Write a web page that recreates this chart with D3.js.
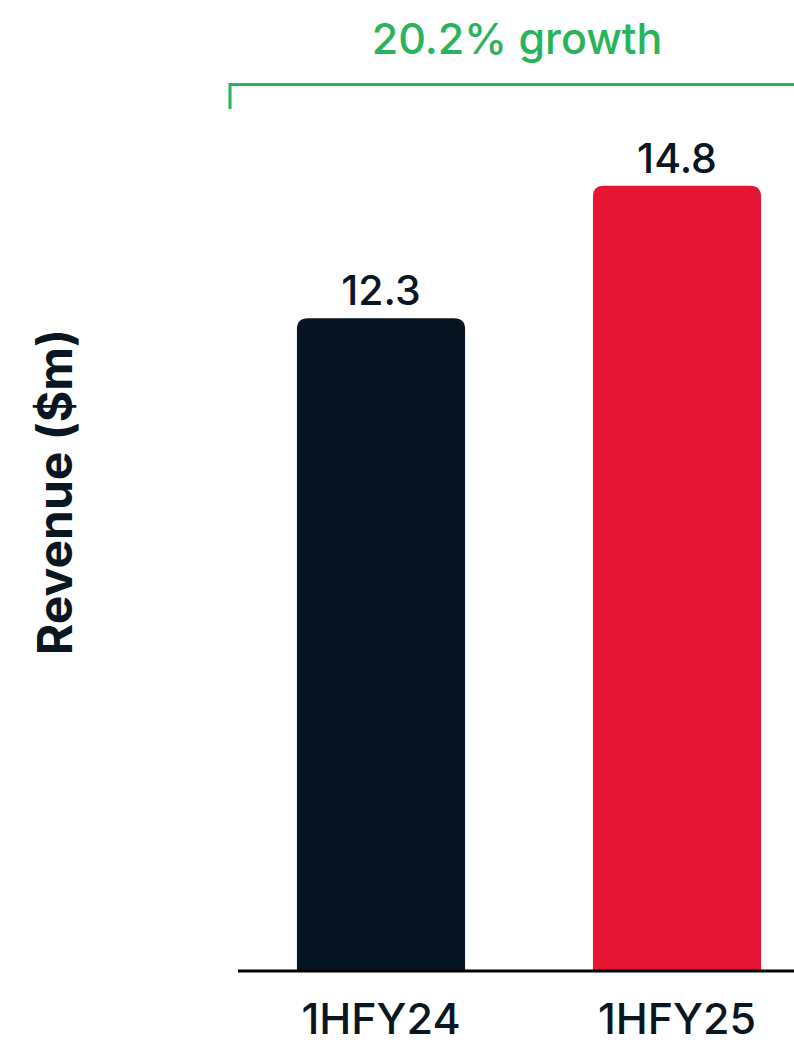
<!DOCTYPE html>
<html><head><meta charset="utf-8">
<script src="https://cdn.jsdelivr.net/npm/d3@7"></script>
<style>html,body{margin:0;padding:0;background:#fff;}svg{display:block;}</style>
</head><body>
<script>
const categories = ["1HFY24", "1HFY25"];
const values = [12.3, 14.8];
const valueLabels = ["12.3", "14.8"];
const barColors = ["#061521", "#e61533"];
const growthLabel = "20.2% growth";
const yTitle = "Revenue ($m)";

const W = 794, H = 1043;
const svg = d3.select("body").append("svg").attr("width", W).attr("height", H);
const font = "Inter, 'Noto Sans', sans-serif";
const dark = "#0a1622";

const x = d3.scaleBand().domain(categories).range([233, 825]).paddingInner(0.432).paddingOuter(0.216);
const y = d3.scaleLinear().domain([0, 18.3]).range([971, 0]);

const r = 11;
function barPath(x0, w, yTop, yBot) {
  return `M${x0},${yBot} L${x0},${yTop + r} Q${x0},${yTop} ${x0 + r},${yTop} L${x0 + w - r},${yTop} Q${x0 + w},${yTop} ${x0 + w},${yTop + r} L${x0 + w},${yBot} Z`;
}

svg.selectAll("path.bar").data(values).join("path")
  .attr("class", "bar")
  .attr("d", (d, i) => barPath(x(categories[i]), x.bandwidth(), y(d), y(0)))
  .attr("fill", (d, i) => barColors[i]);

// value labels
svg.selectAll("text.val").data(values).join("text")
  .attr("class", "val")
  .attr("x", (d, i) => x(categories[i]) + x.bandwidth() / 2)
  .attr("y", d => y(d) - 13)
  .attr("text-anchor", "middle")
  .attr("font-family", font).attr("font-weight", 500).attr("font-size", 41)
  .attr("fill", dark)
  .text((d, i) => valueLabels[i]);

// x axis
const xAxis = svg.append("g").attr("transform", `translate(0,${y(0)})`)
  .call(d3.axisBottom(x).tickSize(0).tickPadding(0));
xAxis.select(".domain").attr("d", `M238,0H794`).attr("stroke", "#000").attr("stroke-width", 3);
xAxis.selectAll("text").attr("font-family", font).attr("font-weight", 500).attr("font-size", 43).attr("fill", dark)
  .attr("y", 0).attr("dy", 0).attr("transform", "translate(0,63)");

// y title
svg.append("text")
  .attr("transform", "translate(72,492) rotate(-90)")
  .attr("text-anchor", "middle")
  .attr("font-family", font).attr("font-weight", 700).attr("font-size", 48)
  .attr("fill", dark)
  .text(yTitle);

// growth bracket
const green = "#2ab45a";
svg.append("path")
  .attr("d", "M230,109 V84.5 H794")
  .attr("fill", "none").attr("stroke", green).attr("stroke-width", 3);
svg.append("text")
  .attr("x", 517).attr("y", 54)
  .attr("text-anchor", "middle")
  .attr("font-family", font).attr("font-weight", 500).attr("font-size", 43)
  .attr("fill", green)
  .text(growthLabel);
</script>
</body></html>
